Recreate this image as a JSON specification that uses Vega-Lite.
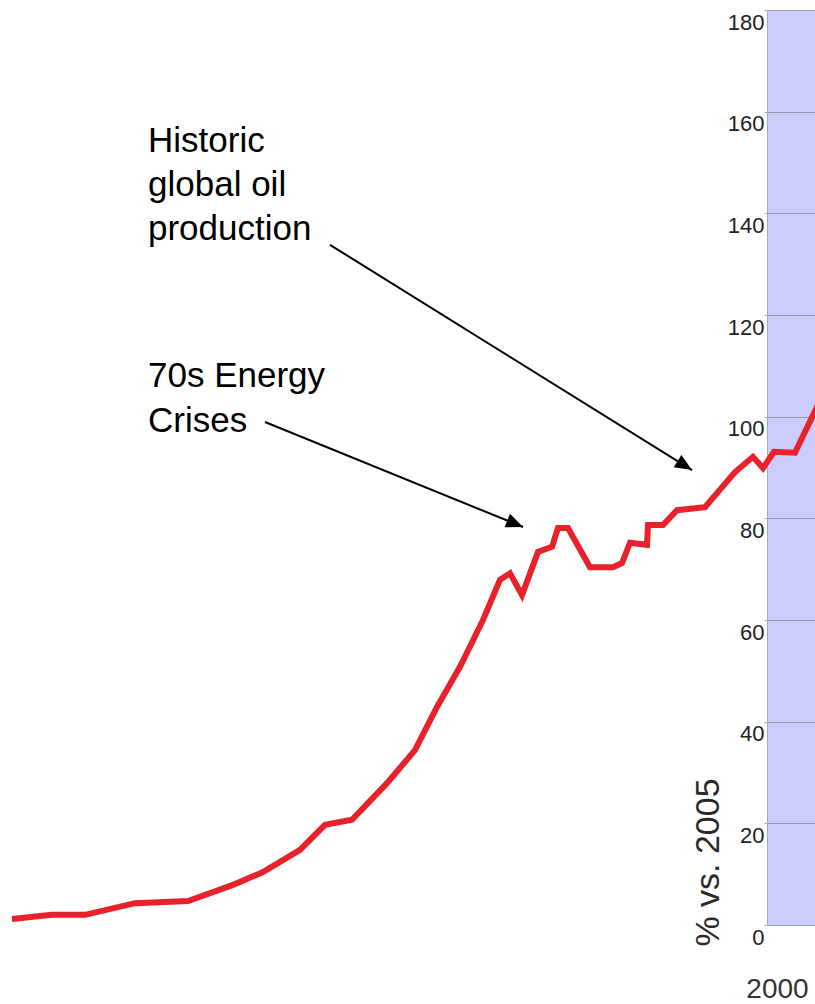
{
  "$schema": "https://vega.github.io/schema/vega-lite/v6.json",
  "autosize": {"type": "none"},
  "padding": {"left": 767, "top": 10, "right": 0, "bottom": 79},
  "width": 48,
  "height": 915,
  "background": "white",
  "config": {"view": {"fill": "#ccccff", "stroke": null}},
  "datasets": {
    "oil": [
      {"year": 1923.5, "pct": 1.2},
      {"year": 1927.5, "pct": 2.0},
      {"year": 1930.8, "pct": 2.0},
      {"year": 1935.8, "pct": 4.3},
      {"year": 1941.1, "pct": 4.7},
      {"year": 1945.6, "pct": 7.9},
      {"year": 1948.6, "pct": 10.4},
      {"year": 1952.3, "pct": 14.8},
      {"year": 1954.8, "pct": 19.7},
      {"year": 1957.5, "pct": 20.7},
      {"year": 1961.0, "pct": 27.9},
      {"year": 1963.8, "pct": 34.4},
      {"year": 1966.0, "pct": 42.9},
      {"year": 1968.3, "pct": 50.8},
      {"year": 1970.6, "pct": 60.0},
      {"year": 1972.3, "pct": 67.9},
      {"year": 1973.3, "pct": 69.2},
      {"year": 1974.5, "pct": 64.9},
      {"year": 1976.1, "pct": 73.4},
      {"year": 1977.5, "pct": 74.4},
      {"year": 1978.1, "pct": 78.1},
      {"year": 1979.1, "pct": 78.1},
      {"year": 1981.3, "pct": 70.4},
      {"year": 1983.6, "pct": 70.4},
      {"year": 1984.5, "pct": 71.2},
      {"year": 1985.3, "pct": 75.2},
      {"year": 1987.0, "pct": 74.8},
      {"year": 1987.1, "pct": 78.7},
      {"year": 1988.6, "pct": 78.7},
      {"year": 1990.0, "pct": 81.6},
      {"year": 1992.8, "pct": 82.2},
      {"year": 1995.8, "pct": 89.1},
      {"year": 1997.6, "pct": 92.1},
      {"year": 1998.6, "pct": 89.9},
      {"year": 1999.7, "pct": 93.1},
      {"year": 2001.8, "pct": 92.9},
      {"year": 2003.8, "pct": 101.1},
      {"year": 2005.8, "pct": 109.0}
    ],
    "notes": [
      {"year": 1937.1, "pct": 152.1, "label": "Historic"},
      {"year": 1937.1, "pct": 143.4, "label": "global oil"},
      {"year": 1937.1, "pct": 134.8, "label": "production"},
      {"year": 1937.1, "pct": 105.8, "label": "70s Energy"},
      {"year": 1937.1, "pct": 97.0, "label": "Crises"}
    ],
    "arrows": [
      {"name": "production", "year": 1955.3, "pct": 133.8, "year2": 1991.5, "pct2": 89.5},
      {"name": "crises", "year": 1948.8, "pct": 98.95, "year2": 1974.6, "pct2": 78.3}
    ]
  },
  "encoding": {
    "x": {"field": "year", "type": "quantitative",
      "scale": {"domain": [1999.0, 2003.8], "nice": false, "zero": false},
      "axis": {"values": [2000], "domain": false, "ticks": false, "grid": false, "title": null,
        "format": "d", "labelFlush": false, "labelOverlap": false,
        "labelFont": "Liberation Sans", "labelFontSize": 28, "labelColor": "#333333",
        "labelPadding": 50, "labelBaseline": "top"}},
    "y": {"field": "pct", "type": "quantitative",
      "scale": {"domain": [0, 180], "nice": false},
      "axis": {"values": [0, 20, 40, 60, 80, 100, 120, 140, 160, 180],
        "grid": true, "gridColor": "#9a9aaa", "gridWidth": 1,
        "domainColor": "#aaaaaa", "tickColor": "#aaaaaa", "tickSize": 3,
        "labelPadding": 0, "labelFlush": false, "labelOverlap": false,
        "labelFont": "Liberation Sans Narrow, Arial Narrow, Liberation Sans, Arial",
        "labelFontSize": 22, "labelColor": "#222222",
        "labelBaseline": "middle", "labelOffset": 12,
        "title": "% vs. 2005", "titleFont": "Liberation Sans", "titleFontSize": 34,
        "titleFontWeight": "normal", "titleColor": "#2a2a2a",
        "titleX": -59, "titleY": 852, "titleAngle": -90,
        "titleAlign": "center", "titleBaseline": "middle"}}
  },
  "layer": [
    {
      "data": {"name": "oil"},
      "mark": {"type": "line", "color": "#e8212b", "strokeWidth": 6, "clip": false}
    },
    {
      "data": {"name": "arrows"},
      "mark": {"type": "rule", "color": "#000000", "strokeWidth": 2},
      "encoding": {
        "x2": {"field": "year2"},
        "y2": {"field": "pct2"}
      }
    },
    {
      "data": {"name": "arrows"},
      "transform": [{"filter": "datum.name === 'production'"}],
      "mark": {"type": "point", "shape": "M0,0L0.85,2L-0.85,2Z", "filled": true, "color": "#000000",
        "size": 289, "angle": 121.9, "opacity": 1, "strokeWidth": 0},
      "encoding": {
        "x": {"field": "year2", "type": "quantitative"},
        "y": {"field": "pct2", "type": "quantitative"}
      }
    },
    {
      "data": {"name": "arrows"},
      "transform": [{"filter": "datum.name === 'crises'"}],
      "mark": {"type": "point", "shape": "M0,0L0.85,2L-0.85,2Z", "filled": true, "color": "#000000",
        "size": 289, "angle": 112.2, "opacity": 1, "strokeWidth": 0},
      "encoding": {
        "x": {"field": "year2", "type": "quantitative"},
        "y": {"field": "pct2", "type": "quantitative"}
      }
    },
    {
      "data": {"name": "notes"},
      "mark": {"type": "text", "align": "left", "baseline": "alphabetic",
        "font": "Liberation Sans", "fontSize": 35, "color": "#000000"},
      "encoding": {
        "text": {"field": "label", "type": "nominal"}
      }
    }
  ]
}
